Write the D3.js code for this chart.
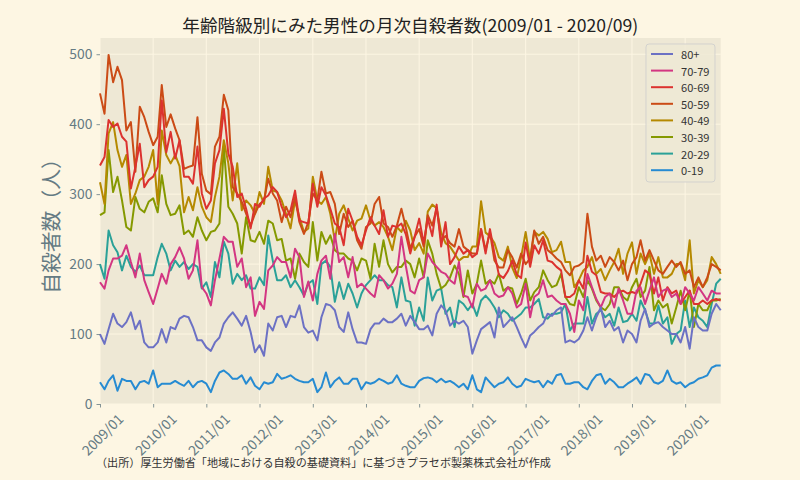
<!DOCTYPE html>
<html><head><meta charset="utf-8">
<script src="https://cdn.jsdelivr.net/npm/d3@7"></script>
<style>
html,body{margin:0;padding:0;background:#FDF6E3;}
svg{display:block;font-family:"Noto Sans CJK JP","Noto Sans",sans-serif;}
</style></head><body>
<svg id="chart" width="800" height="480"></svg>
<script>
// ---- data (monthly male suicides by age band, 2009/01 - 2020/09) ----
const firstMonth = [2009, 0];
const lastMonth = [2020, 8];
const seriesNames = ["0-19","20-29","30-39","40-49","50-59","60-69","70-79","80+"];
const seriesColors = ["#268BD2","#2AA198","#859900","#B58900","#CB4B16","#DC322F","#D33682","#6C71C4"];

const age0_19 = [31,21,33,41,19,36,33,33,21,31,33,29,48,24,29,29,29,33,29,26,33,24,31,33,29,
17,33,45,48,43,36,36,41,29,38,26,21,31,29,31,43,36,38,41,36,33,31,
31,
36,17,24,45,24,33,38,29,29,36,36,21,31,29,31,36,33,29,31,41,29,26,24,24,
33,37,38,36,31,36,31,33,29,24,29,21,41,21,17,38,31,24,29,31,38,29,24,26,
36,33,31,33,24,33,29,41,43,29,29,31,31,24,21,33,41,43,29,36,31,24,24,
29,33,38,29,43,41,31,29,33,48,33,29,31,24,29,31,36,38,41,52,55,55];

const age20_29 = [200,179,248,227,217,191,212,196,189,198,184,184,184,210,229,215,191,205,196,203,193,200,196,165,174,
153,203,181,232,215,172,186,177,184,165,165,181,170,241,205,177,177,184,167,177,167,155,
172,
177,143,200,205,196,146,174,150,172,158,138,158,170,177,184,177,177,170,167,138,181,148,146,112,
138,119,181,148,162,165,129,138,110,148,143,134,143,126,148,155,148,138,124,134,129,119,124,129,
138,138,143,150,124,122,129,129,131,143,105,115,115,115,153,115,129,134,124,129,112,138,117,
119,129,119,148,134,115,115,141,115,124,86,100,105,148,110,138,124,119,110,143,172,179];

const age30_39 = [270,274,363,303,325,291,253,248,296,279,274,289,294,274,327,286,270,272,284,243,248,239,267,248,234,
246,248,258,368,282,272,258,215,267,234,232,246,229,262,258,234,236,205,208,179,215,203,
196,
260,205,246,229,241,220,215,215,208,205,191,208,205,179,229,196,234,200,188,196,196,205,200,181,
208,181,234,215,186,165,170,181,198,186,153,191,158,172,205,172,177,172,186,162,167,165,143,158,
179,148,160,167,191,177,167,170,186,153,143,141,167,153,177,165,148,138,134,143,167,167,153,
148,167,179,153,162,196,134,148,138,143,115,138,162,134,162,110,143,134,134,148,148,150];

const age40_49 = [317,286,387,403,363,339,356,286,301,320,325,339,363,286,391,356,344,356,340,274,296,277,310,282,267,
260,296,325,377,344,291,344,277,291,284,272,303,286,339,305,303,291,272,251,291,267,246,
251,
325,291,286,296,272,234,272,284,265,248,262,265,284,262,255,260,253,239,220,253,246,262,248,220,
230,215,275,285,280,245,230,225,215,205,210,210,225,225,290,245,240,230,210,205,225,195,180,210,
246,205,246,241,246,236,217,220,232,203,203,167,177,191,196,210,186,193,177,191,203,222,186,
215,231,186,215,200,215,186,210,181,181,186,200,200,177,234,158,177,167,177,210,200,186];

const age50_59 = [444,415,499,460,482,463,391,403,332,425,410,389,370,382,456,396,414,394,377,336,339,341,410,329,305,
300,368,382,442,420,310,301,289,272,255,272,286,291,322,301,291,260,282,267,296,260,243,
260,
301,291,332,301,303,286,243,272,253,262,234,222,253,258,286,296,258,253,239,255,279,253,222,239,
250,225,270,255,280,235,240,230,225,250,225,220,215,215,250,220,245,205,195,195,220,210,195,215,
200,208,248,229,239,220,215,208,203,191,184,196,198,203,272,225,205,212,196,210,203,191,205,
177,200,210,234,205,220,205,191,186,196,205,196,203,186,191,167,181,167,181,200,196,191];

const age60_69 = [341,353,406,396,401,382,375,308,339,372,310,320,325,339,434,360,389,351,377,325,325,315,368,301,279,
291,344,363,422,358,339,296,301,279,251,286,282,294,298,310,303,282,267,277,305,262,260,
258,
315,282,310,298,279,258,253,227,279,262,239,227,248,267,255,243,277,239,255,253,258,243,215,239,
265,230,265,240,285,225,260,200,210,225,215,220,210,215,250,215,250,215,185,180,190,205,185,180,
231,196,227,215,234,205,203,196,191,153,153,158,177,165,212,189,184,160,158,158,153,160,162,
158,160,158,172,191,186,158,181,148,167,158,162,143,153,162,143,143,148,143,148,150,148];

const age70_79 = [174,165,191,208,208,212,227,203,181,215,177,160,143,165,186,172,200,210,224,208,179,191,234,167,158,
141,177,208,239,232,232,196,208,167,181,126,146,136,191,198,210,203,203,181,222,210,153,
175,
148,186,205,212,179,243,203,210,181,210,167,172,165,158,153,184,177,165,172,186,239,198,162,158,
177,181,215,203,196,189,186,177,172,203,155,153,138,172,162,165,177,158,153,155,167,158,138,143,
172,124,153,158,177,153,155,148,143,143,129,103,148,134,186,167,150,138,153,158,138,165,148,
129,129,162,167,143,162,181,153,162,165,153,158,143,167,158,148,167,158,148,162,158,158];

const age80plus = [100,86,107,129,115,110,117,131,107,119,88,81,81,88,107,88,110,107,122,126,124,110,91,91,81,
76,88,95,115,124,131,122,112,126,103,74,84,69,115,105,124,126,110,126,124,141,110,
102,
105,91,124,143,141,134,110,103,131,107,88,88,86,107,115,115,122,117,117,122,129,112,126,117,
107,107,112,98,129,141,134,112,119,115,119,110,72,91,107,112,117,95,138,110,117,124,110,95,
81,98,103,110,115,129,126,134,138,88,91,88,93,105,124,105,124,138,110,119,105,110,88,
105,100,88,119,136,110,115,117,110,105,100,100,88,110,79,124,110,105,105,129,143,134];

const yTickValues = [0,100,200,300,400,500];
const xTickYears = [2009,2010,2011,2012,2013,2014,2015,2016,2017,2018,2019,2020];
const titleText = "年齢階級別にみた男性の月次自殺者数(2009/01 - 2020/09)";
const yLabelText = "自殺者数（人）";
const sourceText = "（出所）厚生労働省「地域における自殺の基礎資料」に基づきプラセボ製薬株式会社が作成";

// ---- drawing ----
const allSeries = [age0_19, age20_29, age30_39, age40_49, age50_59, age60_69, age70_79, age80plus];
const months = d3.timeMonth.range(new Date(firstMonth[0], firstMonth[1], 1), new Date(lastMonth[0], lastMonth[1] + 1, 1));

const svg = d3.select("#chart");
const L = 100, R = 720.7, T = 38, B = 404;
const x = d3.scaleTime().domain([months[0], months[months.length - 1]]).range([L, R]);
const y = d3.scaleLinear().domain([0, 523.2]).range([B, T]);
const tickColor = "#657b83";

svg.append("rect").attr("width", 800).attr("height", 480).attr("fill", "#FDF6E3");
svg.append("rect").attr("x", L).attr("y", T).attr("width", R - L).attr("height", B - T).attr("fill", "#EEE8D5");

const xTickDates = xTickYears.map(yr => new Date(yr, 0, 1));
const grid = svg.append("g").attr("stroke", "#FDF6E3").attr("stroke-width", 1);
grid.selectAll("line.v").data(xTickDates).join("line")
  .attr("x1", d => x(d)).attr("x2", d => x(d)).attr("y1", T).attr("y2", B);
grid.selectAll("line.h").data(yTickValues).join("line")
  .attr("x1", L).attr("x2", R).attr("y1", d => y(d)).attr("y2", d => y(d));

const line = d3.line().x((d, i) => x(months[i])).y(d => y(d));
svg.append("g").selectAll("path").data(allSeries).join("path")
  .attr("d", d => line(d))
  .attr("fill", "none")
  .attr("stroke", (d, i) => seriesColors[i])
  .attr("stroke-width", 2)
  .attr("stroke-linejoin", "round");

// axes
const yAxis = svg.append("g").attr("transform", `translate(${L},0)`)
  .call(d3.axisLeft(y).tickValues(yTickValues).tickSize(3.5).tickPadding(4));
yAxis.select(".domain").remove();
yAxis.selectAll("line").attr("stroke", tickColor).attr("stroke-width", 0.8);
yAxis.selectAll("text").attr("fill", tickColor).style("font-size", "13.9px")
  .style("font-family", '"Noto Sans CJK JP", sans-serif');

const xAxis = svg.append("g").attr("transform", `translate(0,${B})`)
  .call(d3.axisBottom(x).tickValues(xTickDates).tickFormat(d3.timeFormat("%Y/%m")).tickSize(3.5));
xAxis.select(".domain").remove();
xAxis.selectAll("line").attr("stroke", tickColor).attr("stroke-width", 0.8);
xAxis.selectAll("text")
  .attr("fill", tickColor).style("font-size", "13.9px")
  .style("font-family", '"Noto Sans CJK JP", sans-serif')
  .attr("y", null).attr("dy", null)
  .attr("text-anchor", "middle").attr("dominant-baseline", "central")
  .attr("transform", "translate(1.5,30) rotate(-45)");

// title
svg.append("text").attr("x", (L + R) / 2).attr("y", 32)
  .attr("text-anchor", "middle").attr("fill", "#222")
  .style("font-size", "17.6px").text(titleText);

// y label
svg.append("text").attr("transform", `translate(59,${(T + B) / 2}) rotate(-90)`)
  .attr("text-anchor", "middle").attr("fill", tickColor)
  .style("font-size", "20.8px").text(yLabelText);

// source
svg.append("text").attr("x", 96).attr("y", 467).attr("fill", "#333")
  .style("font-size", "11.1px").text(sourceText);

// legend
const lg = svg.append("g");
const lgX = 646, lgY = 44, lgW = 69, lgH = 138;
lg.append("rect").attr("x", lgX).attr("y", lgY).attr("width", lgW).attr("height", lgH)
  .attr("rx", 3).attr("fill", "#EEE8D5").attr("fill-opacity", 0.8)
  .attr("stroke", "#cccccc").attr("stroke-opacity", 0.8).attr("stroke-width", 1);
const order = d3.range(seriesNames.length).reverse();
order.forEach((si, k) => {
  const cy = 54 + k * 16.6;
  lg.append("line").attr("x1", 651).attr("x2", 673).attr("y1", cy).attr("y2", cy)
    .attr("stroke", seriesColors[si]).attr("stroke-width", 2);
  lg.append("text").attr("x", 681).attr("y", cy).attr("dominant-baseline", "central")
    .attr("fill", "#333").style("font-size", "11.1px").text(seriesNames[si]);
});
</script>
</body></html>
